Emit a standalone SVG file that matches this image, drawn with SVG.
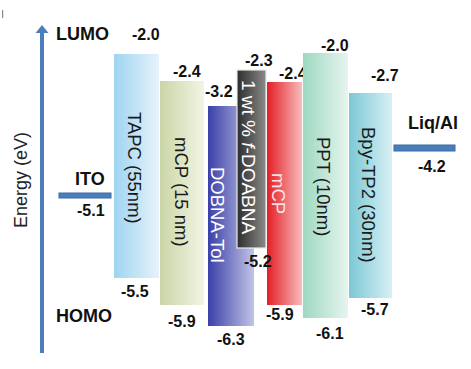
<svg xmlns="http://www.w3.org/2000/svg" width="471" height="369" viewBox="0 0 471 369">
<style>
.lbl{font-family:"Liberation Sans",Arial,sans-serif;font-weight:bold;font-size:18px;fill:#111}
.num{font-family:"Liberation Sans",Arial,sans-serif;font-weight:bold;font-size:16px;fill:#111}
.bar{font-family:"Liberation Sans",Arial,sans-serif;font-size:18.5px;fill:#1a1a1a}
.wt{fill:#fff}
.pk{fill:#fde4e4}
.ax{font-family:"Liberation Sans",Arial,sans-serif;font-size:18px;fill:#222}
.lvl{fill:#4a7ebb;stroke:#3a6aa0;stroke-width:1}
</style>
<defs>
<linearGradient id="gTAPC" x1="0" x2="1" y1="0" y2="0"><stop offset="0" stop-color="#9fd4f1"/><stop offset="1" stop-color="#e6f3fb"/></linearGradient>
<linearGradient id="gMCP" x1="0" x2="1" y1="0" y2="0"><stop offset="0" stop-color="#cad5a6"/><stop offset="1" stop-color="#f2f5e4"/></linearGradient>
<linearGradient id="gDOB" x1="0" x2="1" y1="0" y2="0"><stop offset="0" stop-color="#3a40a8"/><stop offset="1" stop-color="#c2c4e6"/></linearGradient>
<linearGradient id="gGRAY" x1="0" x2="1" y1="0" y2="0"><stop offset="0" stop-color="#2e2e2e"/><stop offset="1" stop-color="#8a8a8a"/></linearGradient>
<linearGradient id="gRED" x1="0" x2="1" y1="0" y2="0"><stop offset="0" stop-color="#e41e26"/><stop offset="1" stop-color="#f7bcbc"/></linearGradient>
<linearGradient id="gPPT" x1="0" x2="1" y1="0" y2="0"><stop offset="0" stop-color="#9ed8c1"/><stop offset="1" stop-color="#e6f5ef"/></linearGradient>
<linearGradient id="gBPY" x1="0" x2="1" y1="0" y2="0"><stop offset="0" stop-color="#7cc8d6"/><stop offset="1" stop-color="#d8f0f4"/></linearGradient>
</defs>
<rect width="471" height="369" fill="#fff"/>
<rect x="2" y="10" width="1.2" height="8" fill="#888"/>

<g id="axis">
<line x1="42" y1="32" x2="42" y2="353" stroke="#4a7ebb" stroke-width="4"/>
<polygon points="42,25 35.5,33 48.5,33" fill="#4a7ebb"/>
<text class="ax" transform="translate(27,180) rotate(-90)" text-anchor="middle">Energy (eV)</text>
<text class="lbl" x="56" y="40">LUMO</text>
<text class="lbl" x="56" y="322">HOMO</text>
</g>

<g id="ITO">
<rect class="lvl" x="59" y="193" width="52" height="5"/>
<text class="lbl" x="75" y="185">ITO</text>
<text class="num" x="77" y="216">-5.1</text>
</g>

<g id="TAPC">
<rect x="114" y="54" width="45" height="224" fill="url(#gTAPC)"/>
<text class="bar" transform="translate(128,112) rotate(90)">TAPC (55nm)</text>
<text class="num" x="132" y="40">-2.0</text>
<text class="num" x="121" y="297">-5.5</text>
</g>

<g id="mCP1">
<rect x="160" y="81" width="44" height="224" fill="url(#gMCP)"/>
<text class="bar" transform="translate(175,137) rotate(90)">mCP (15 nm)</text>
<text class="num" x="173" y="77">-2.4</text>
<text class="num" x="168" y="327">-5.9</text>
</g>

<g id="DOBNA">
<rect x="208" y="106" width="46" height="220" fill="url(#gDOB)"/>
<text class="bar wt" transform="translate(211,167) rotate(90)">DOBNA-Tol</text>
<text class="num" x="205" y="97">-3.2</text>
<text class="num" x="217" y="345">-6.3</text>
</g>

<g id="mCP2">
<rect x="267" y="82" width="35" height="223" fill="url(#gRED)"/>
<text class="bar pk" transform="translate(272,173) rotate(90)">mCP</text>
<text class="num" x="279" y="79">-2.4</text>
<text class="num" x="266" y="320">-5.9</text>
</g>

<g id="fDOABNA">
<rect x="237" y="70" width="29" height="178" fill="url(#gGRAY)" stroke="#e8e8e8" stroke-width="1.2"/>
<text class="bar wt" transform="translate(242,80) rotate(90)" style="font-size:19px">1 wt % <tspan font-style="italic">f</tspan>-DOABNA</text>
<text class="num" x="245" y="66">-2.3</text>
<text class="num" x="244" y="267">-5.2</text>
</g>

<g id="PPT">
<rect x="303" y="53" width="45" height="265" fill="url(#gPPT)"/>
<text class="bar" transform="translate(317,137) rotate(90)">PPT (10nm)</text>
<text class="num" x="321" y="51">-2.0</text>
<text class="num" x="316" y="339">-6.1</text>
</g>

<g id="BpyTP2">
<rect x="349" y="93" width="43" height="205" fill="url(#gBPY)"/>
<text class="bar" transform="translate(362,127) rotate(90)">Bpy-TP2 (30nm)</text>
<text class="num" x="371" y="81">-2.7</text>
<text class="num" x="361" y="315">-5.7</text>
</g>

<g id="LiqAl">
<rect class="lvl" x="394" y="145" width="61" height="6"/>
<text class="lbl" x="408" y="129">Liq/Al</text>
<text class="num" x="418" y="172">-4.2</text>
</g>

<g id="connectors"></g>
</svg>
